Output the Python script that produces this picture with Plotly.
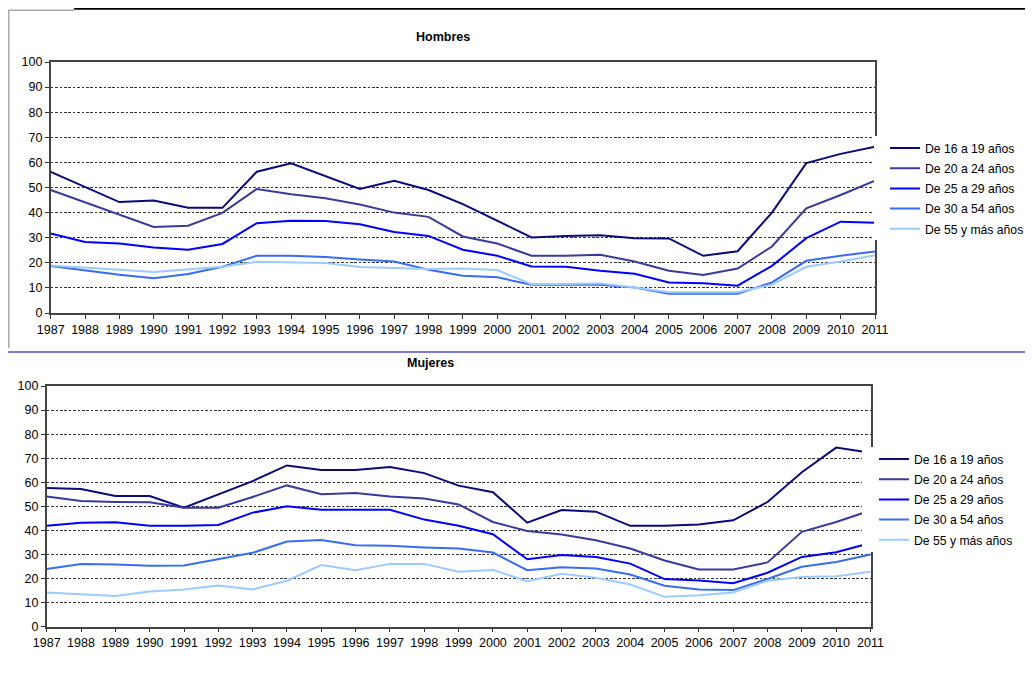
import plotly.graph_objects as go

# ---------------- data ----------------
years = list(range(1987, 2012))
series_names = ["De 16 a 19 años", "De 20 a 24 años", "De 25 a 29 años",
                "De 30 a 54 años", "De 55 y más años"]

h_16_19 = [56.2, 50.3, 44.2, 44.8, 41.9, 41.9, 56.3, 59.6, 54.5, 49.4, 52.7, 49.0, 43.4,
           36.8, 30.1, 30.7, 31.0, 29.8, 29.7, 22.8, 24.6, 40.0, 59.7, 63.4, 66.2]
h_20_24 = [49.0, 44.0, 39.1, 34.3, 34.8, 39.9, 49.4, 47.3, 45.7, 43.2, 40.0, 38.3, 30.5,
           27.7, 22.8, 22.8, 23.2, 20.5, 16.8, 15.1, 17.7, 26.5, 41.7, 47.0, 52.7]
h_25_29 = [31.7, 28.3, 27.7, 26.1, 25.2, 27.5, 35.8, 36.8, 36.7, 35.4, 32.3, 30.7, 25.2,
           22.8, 18.5, 18.4, 16.8, 15.6, 12.2, 11.9, 10.9, 18.8, 29.8, 36.4, 36.0]
h_30_54 = [18.7, 17.0, 15.2, 13.8, 15.5, 18.4, 22.8, 22.8, 22.3, 21.3, 20.5, 17.2, 14.8,
           14.2, 11.3, 11.3, 11.3, 10.2, 7.7, 7.7, 7.7, 12.2, 20.8, 22.8, 24.5]
h_55 = [18.9, 17.9, 17.2, 16.3, 17.4, 18.4, 20.4, 20.1, 19.9, 18.3, 17.9, 17.5, 17.7,
        17.1, 11.5, 11.7, 11.8, 10.2, 8.3, 8.3, 8.3, 11.3, 18.4, 20.5, 23.0]

m_16_19 = [57.6, 57.2, 54.3, 54.3, 49.4, 54.8, 60.5, 67.0, 65.1, 65.1, 66.3, 63.8, 58.6,
           55.9, 43.2, 48.5, 47.8, 41.9, 41.9, 42.5, 44.2, 51.8, 64.2, 74.4, 72.3]
m_20_24 = [54.1, 52.2, 51.8, 51.7, 49.4, 49.4, 53.9, 58.7, 55.0, 55.5, 54.1, 53.3, 50.8,
           43.5, 39.8, 38.3, 35.9, 32.5, 27.5, 23.8, 23.8, 26.7, 39.4, 43.5, 48.3]
m_25_29 = [41.9, 43.2, 43.4, 41.9, 41.9, 42.3, 47.4, 50.0, 48.6, 48.6, 48.6, 44.5, 41.9,
           38.4, 28.0, 29.8, 29.0, 26.2, 19.8, 19.2, 18.1, 22.4, 29.0, 30.9, 34.8]
m_30_54 = [24.0, 26.0, 25.8, 25.3, 25.4, 28.0, 30.7, 35.4, 36.0, 33.8, 33.6, 32.9, 32.5,
           30.8, 23.5, 24.7, 24.2, 21.7, 17.0, 15.5, 15.2, 19.8, 24.9, 26.9, 30.0]
m_55 = [14.2, 13.5, 12.8, 14.6, 15.5, 17.1, 15.5, 19.1, 25.6, 23.5, 26.1, 26.1, 22.8,
        23.6, 18.9, 22.0, 20.3, 17.5, 12.4, 13.1, 14.2, 19.1, 20.6, 21.0, 22.8]

hombres = [h_16_19, h_20_24, h_25_29, h_30_54, h_55]
mujeres = [m_16_19, m_20_24, m_25_29, m_30_54, m_55]

y_ticks = list(range(0, 101, 10))

# ---------------- styling ----------------
colors = ["#0a0a78", "#3a3a9a", "#0000ff", "#3a6cf0", "#9ccbff"]
PAGE_MARGIN = 8          # default body margin of the html page
W, H = 1033 - 2 * PAGE_MARGIN, 686 - 2 * PAGE_MARGIN
FONT = "Arial, Liberation Sans, sans-serif"


def px(x):
    return (x - PAGE_MARGIN) / W


def py(y):
    return 1 - (y - PAGE_MARGIN) / H


fig = go.Figure()

for i, name in enumerate(series_names):
    fig.add_trace(go.Scatter(x=years, y=hombres[i], mode="lines", name=name,
                             line=dict(color=colors[i], width=2), legendgroup=f"h{i}",
                             xaxis="x", yaxis="y", legend="legend"))
for i, name in enumerate(series_names):
    fig.add_trace(go.Scatter(x=years, y=mujeres[i], mode="lines", name=name,
                             line=dict(color=colors[i], width=2), legendgroup=f"m{i}",
                             xaxis="x2", yaxis="y2", legend="legend2"))

xcommon = dict(range=[years[0], years[-1]], tickmode="array", tickvals=years,
               ticktext=[str(y) for y in years], ticks="outside", ticklen=4,
               tickcolor="#333", showline=True, linecolor="#444", linewidth=1.5,
               mirror=True, showgrid=False, zeroline=False,
               tickfont=dict(family=FONT, size=12.5, color="black"))
ycommon = dict(range=[0, 100], tickmode="array", tickvals=y_ticks,
               ticks="outside", ticklen=4, tickcolor="#333", showline=True,
               linecolor="#444", linewidth=1.5, mirror=True, showgrid=True,
               gridcolor="#333", griddash="2.7px,1.7px", gridwidth=1, zeroline=False,
               tickfont=dict(family=FONT, size=12.5, color="black"))

legcommon = dict(font=dict(family=FONT, size=12.2, color="black"), bgcolor="rgba(0,0,0,0)",
                 borderwidth=0, xanchor="left", yanchor="top", itemclick=False,
                 traceorder="grouped", tracegroupgap=1.2)

fig.update_layout(
    width=W, height=H, autosize=False,
    margin=dict(l=0, r=0, t=0, b=0, autoexpand=False),
    paper_bgcolor="white", plot_bgcolor="white",
    xaxis=dict(xcommon, domain=[px(50.7), px(875)], anchor="y"),
    yaxis=dict(ycommon, domain=[py(313), py(62)], anchor="x"),
    xaxis2=dict(xcommon, domain=[px(46.7), px(870.5)], anchor="y2"),
    yaxis2=dict(ycommon, domain=[py(626.7), py(386)], anchor="x2"),
    legend=dict(legcommon, x=px(885), y=py(133.5)),
    legend2=dict(legcommon, x=px(874), y=py(444.5)),
    showlegend=True,
)

shapes = [
    # white boxes where the legends overlap the plot border
    dict(type="rect", xref="paper", yref="paper", x0=px(874), x1=px(1033),
         y0=py(240), y1=py(136), fillcolor="white", line=dict(width=0), layer="above"),
    dict(type="rect", xref="paper", yref="paper", x0=px(862), x1=px(1033),
         y0=py(552), y1=py(447), fillcolor="white", line=dict(width=0), layer="above"),
    # page frame lines
    dict(type="line", xref="paper", yref="paper", x0=px(74), x1=px(1033),
         y0=py(8.8), y1=py(8.8), line=dict(color="black", width=2)),
    dict(type="line", xref="paper", yref="paper", x0=px(8.5), x1=px(74),
         y0=py(10.3), y1=py(10.3), line=dict(color="#a8a8a8", width=1.5)),
    dict(type="line", xref="paper", yref="paper", x0=px(8.8), x1=px(8.8),
         y0=py(10), y1=py(348), line=dict(color="#a8a8a8", width=1.5)),
    dict(type="line", xref="paper", yref="paper", x0=px(8), x1=px(1033),
         y0=py(352), y1=py(352), line=dict(color="#5050c0", width=1.5)),
]
fig.update_layout(shapes=shapes)

fig.add_annotation(text="<b>Hombres</b>", xref="paper", yref="paper", x=px(443), y=py(37),
                   xanchor="center", yanchor="middle", showarrow=False,
                   font=dict(family=FONT, size=12.5, color="black"))
fig.add_annotation(text="<b>Mujeres</b>", xref="paper", yref="paper", x=px(430), y=py(363),
                   xanchor="center", yanchor="middle", showarrow=False,
                   font=dict(family=FONT, size=12.5, color="black"))

fig.write_html("out.html", config={"displayModeBar": False})
